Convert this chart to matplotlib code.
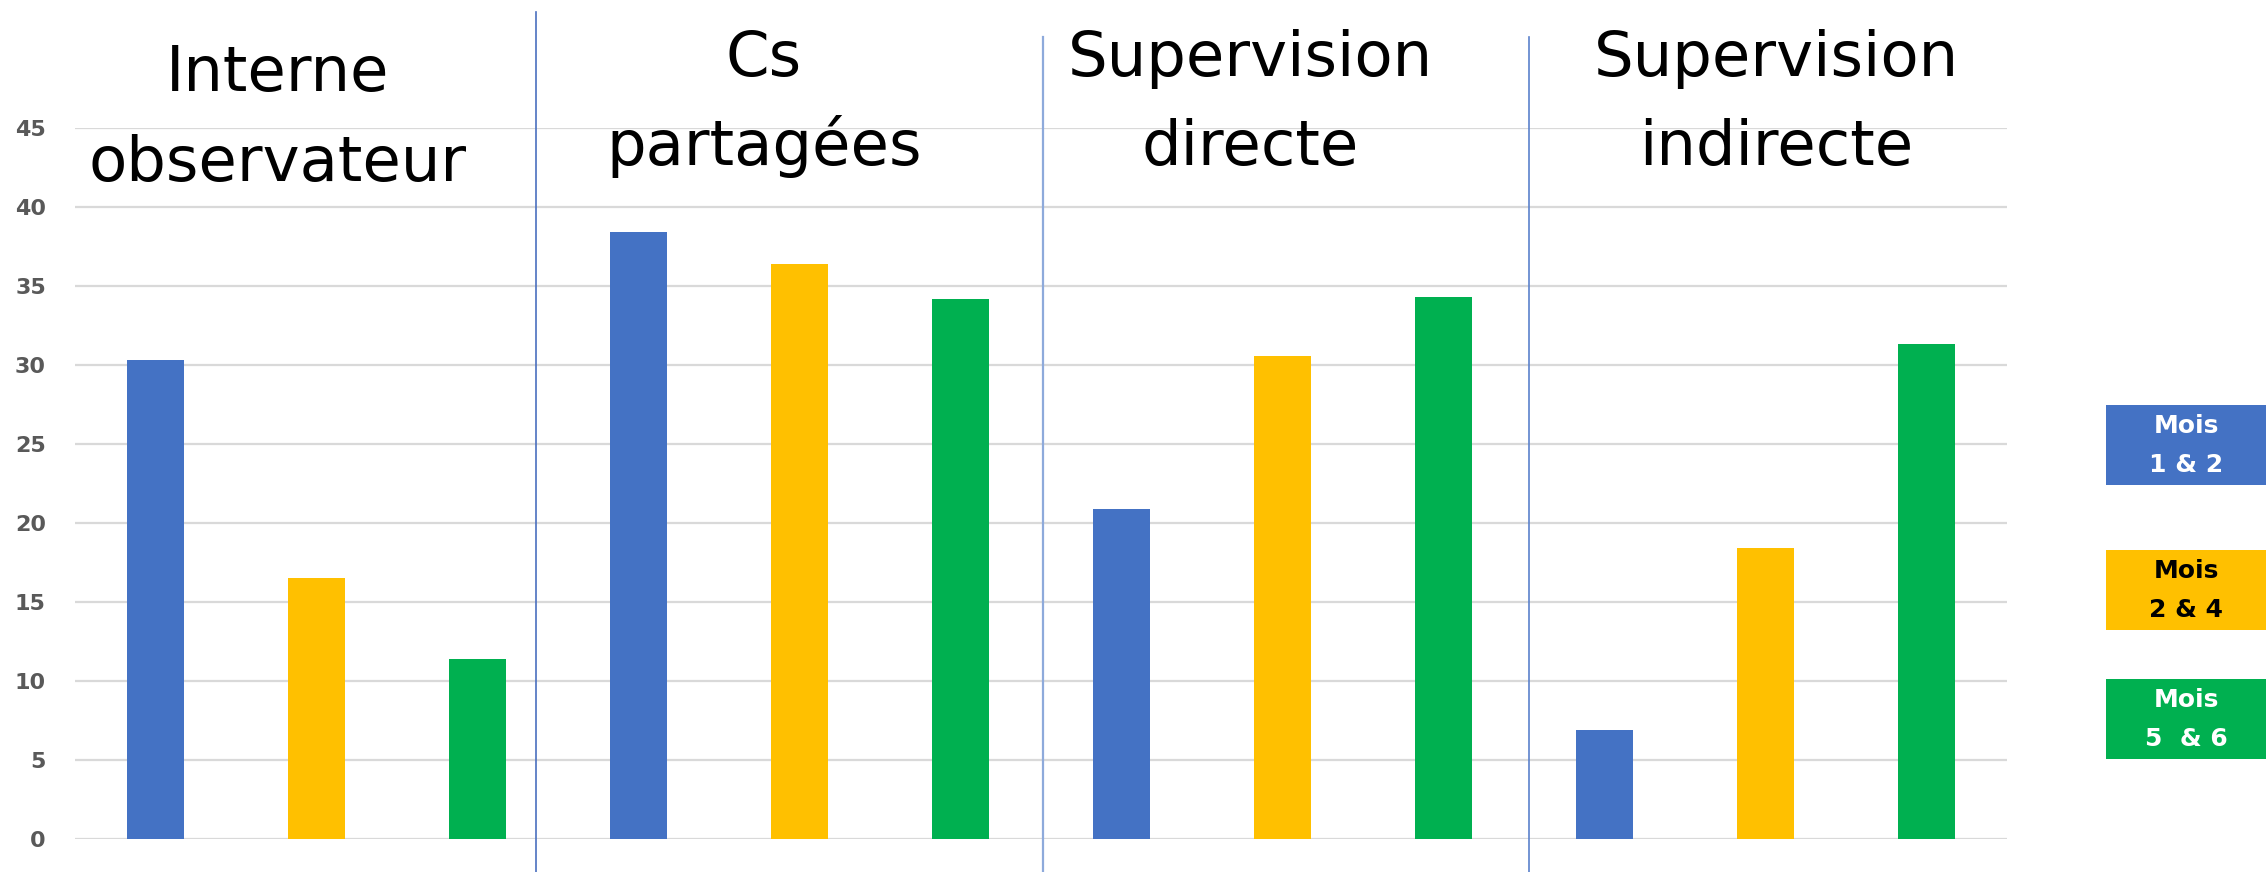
import matplotlib
matplotlib.use("Agg")
import matplotlib.pyplot as plt
from matplotlib.patches import Rectangle
from matplotlib.transforms import blended_transform_factory
import numpy as np

# ---- data ----
categories = ["Interne\nobservateur", "Cs\npartagées", "Supervision\ndirecte", "Supervision\nindirecte"]
series_names = ["Mois\n1 & 2", "Mois\n2 & 4", "Mois\n5  & 6"]
mois_1_2 = [30.3, 38.4, 20.9, 6.9]
mois_2_4 = [16.5, 36.4, 30.6, 18.4]
mois_5_6 = [11.4, 34.2, 34.3, 31.3]
y_ticks = [0, 5, 10, 15, 20, 25, 30, 35, 40, 45]

# ---- style ----
colors = ["#4472C4", "#FFC000", "#00B050"]
legend_text_colors = ["white", "black", "white"]
W, H = 2268, 872

fig = plt.figure(figsize=(W / 100, H / 100), dpi=100)
fig.patch.set_facecolor("white")
ax = fig.add_axes([75 / W, 1 - 839 / H, (2007 - 75) / W, (839 - 128) / H])

series = [mois_1_2, mois_2_4, mois_5_6]
n_series = len(series)
for s, (vals, col) in enumerate(zip(series, colors)):
    xs = np.arange(len(categories)) * n_series + s
    ax.bar(xs, vals, width=0.357, color=col, zorder=3)

ax.set_xlim(-0.5, len(categories) * n_series - 0.5)
ax.set_ylim(0, 45)
ax.set_yticks(y_ticks)
ax.set_yticklabels([str(t) for t in y_ticks], fontsize=16, fontweight="bold", color="#595959")
ax.tick_params(axis="y", length=0, pad=21)
ax.set_xticks([])
ax.grid(axis="y", color="#d9d9d9", linewidth=1.6, zorder=0)
for sp in ax.spines.values():
    sp.set_visible(False)

# group separators
trans = blended_transform_factory(ax.transData, fig.transFigure)
sep_specs = [(2.366, 1 - 12 / H, "#4a6fbf", 1.2),
             (5.515, 1 - 37 / H, "#8eaadb", 1.6),
             (8.53, 1 - 37 / H, "#5b82cc", 1.2)]
for xpos, ytop, c, lw in sep_specs:
    ax.plot([xpos, xpos], [0, ytop], color=c, linewidth=lw, transform=trans, clip_on=False, zorder=4)

# group titles (two lines each)
title_pos = [(278, 91, 181), (764, 76, 165), (1250, 76, 165), (1776, 76, 165)]
for cat, (xc, b1, b2) in zip(categories, title_pos):
    l1, l2 = cat.split("\n")
    fig.text(xc / W, 1 - b1 / H, l1, ha="center", va="baseline", fontsize=45, color="black",
             family="DejaVu Sans")
    fig.text(xc / W, 1 - b2 / H, l2, ha="center", va="baseline", fontsize=45, color="black",
             family="DejaVu Sans")

# legend boxes
box_tops = [405, 550, 679]
box_h = 80
for name, col, tcol, top in zip(series_names, colors, legend_text_colors, box_tops):
    fig.add_artist(Rectangle((2106 / W, 1 - (top + box_h) / H), (2266 - 2106) / W, box_h / H,
                             transform=fig.transFigure, facecolor=col, edgecolor="none"))
    l1, l2 = name.split("\n")
    cy = top + box_h / 2
    fig.text(2186 / W, 1 - (cy - 19) / H, l1, ha="center", va="center", fontsize=18,
             fontweight="bold", color=tcol)
    fig.text(2186 / W, 1 - (cy + 20) / H, l2, ha="center", va="center", fontsize=18,
             fontweight="bold", color=tcol)

fig.savefig("out.png", dpi=100, facecolor="white")
